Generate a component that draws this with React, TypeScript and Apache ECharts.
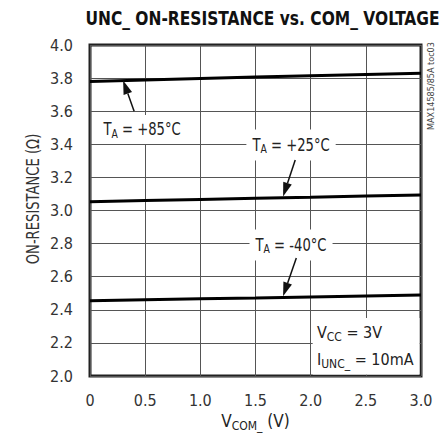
import React, { useEffect, useRef } from 'react';
import * as echarts from 'echarts';

const FONT = "'Liberation Sans Narrow', 'DejaVu Sans Condensed', 'Roboto', sans-serif";

// COM_ voltage (V)
const voltage = [0, 0.5, 1.0, 1.5, 2.0, 2.5, 3.0];
// On-resistance (ohm) per temperature
const ron85 = [3.78, 3.789, 3.798, 3.806, 3.814, 3.822, 3.83];
const ron25 = [3.053, 3.06, 3.067, 3.074, 3.08, 3.087, 3.093];
const ronM40 = [2.455, 2.461, 2.467, 2.472, 2.478, 2.484, 2.489];

const xTickLabels = ['0', '0.5', '1.0', '1.5', '2.0', '2.5', '3.0'];
const yTickLabels = ['2.0', '2.2', '2.4', '2.6', '2.8', '3.0', '3.2', '3.4', '3.6', '3.8', '4.0'];

const title = 'UNC_ ON-RESISTANCE vs. COM_ VOLTAGE';
const yName = 'ON-RESISTANCE (Ω)';
const watermark = 'MAX14585/85A toc03';

// temperature annotations (data coordinates)
const tempNotes = [
  { text: ' = +85°C', at: [0.091, 3.49], align: 'left' },
  { text: ' = +25°C', at: [1.822, 3.396], align: 'center' },
  { text: ' = -40°C', at: [1.822, 2.792], align: 'center' },
];
const arrows = [
  { tail: [0.4, 3.6], head: [0.3, 3.786] },
  { tail: [1.86, 3.305], head: [1.75, 3.085] },
  { tail: [1.87, 2.713], head: [1.75, 2.482] },
];
const condBox = { from: [2.0, 2.0], to: [3.0, 2.35] };
const condLines = [
  { main: 'V', sub: 'CC', rest: ' = 3V', at: [2.057, 2.26] },
  { main: 'I', sub: 'UNC_', rest: ' = 10mA', at: [2.057, 2.097] },
];

const rich = (size: number, sub: number) => ({
  m: { fontSize: size, lineHeight: size + 4, fontFamily: FONT, fill: '#222' },
  s: { fontSize: sub, lineHeight: sub - 1, fontFamily: FONT, fill: '#222', verticalAlign: 'bottom' },
});

export default function App() {
  const ref = useRef<HTMLDivElement>(null);
  useEffect(() => {
    document.body.style.margin = '0';
    const chart = echarts.init(ref.current!, undefined, { renderer: 'svg' });
    const lineSeries = (data: number[]) => ({
      type: 'line',
      data: voltage.map((v, i) => [v, data[i]]),
      symbol: 'none',
      lineStyle: { color: '#000', width: 3 },
      z: 3,
    });
    chart.setOption({
      animation: false,
      grid: {
        left: 90,
        top: 45,
        right: 27,
        bottom: 65,
        show: true,
        borderColor: '#222',
        borderWidth: 3,
        outerBoundsMode: 'none',
      },
      xAxis: {
        type: 'value',
        min: 0,
        max: 3,
        interval: 0.5,
        axisLine: { show: false },
        axisTick: { show: false },
        splitLine: { show: true, lineStyle: { color: '#555', width: 1 } },
        axisLabel: {
          fontSize: 16,
          fontFamily: FONT,
          color: '#333',
          margin: 16,
          formatter: (v: number) => xTickLabels[Math.round(v / 0.5)],
        },
      },
      yAxis: {
        type: 'value',
        min: 2,
        max: 4,
        interval: 0.2,
        axisLine: { show: false },
        axisTick: { show: false },
        splitLine: { show: true, lineStyle: { color: '#555', width: 1 } },
        axisLabel: {
          fontSize: 16,
          fontFamily: FONT,
          color: '#333',
          margin: 17,
          formatter: (v: number) => yTickLabels[Math.round((v - 2) / 0.2)],
        },
      },
      series: [lineSeries(ron85), lineSeries(ron25), lineSeries(ronM40)],
    });

    const px = (p: number[]) => chart.convertToPixel({ gridIndex: 0 }, p) as number[];
    const graphics: any[] = [];

    graphics.push({
      type: 'text',
      z: 10,
      x: 262.5,
      y: 18,
      scaleX: 0.86,
      style: {
        text: title,
        x: 0,
        y: 0,
        textAlign: 'center',
        textVerticalAlign: 'middle',
        font: `bold 20px ${FONT}`,
        fill: '#111',
      },
    });
    graphics.push({
      type: 'text',
      z: 10,
      x: 33,
      y: 199,
      rotation: Math.PI / 2,
      scaleX: 0.86,
      style: {
        text: yName,
        x: 0,
        y: 0,
        textAlign: 'center',
        textVerticalAlign: 'middle',
        font: `17px ${FONT}`,
        fill: '#333',
      },
    });
    graphics.push({
      type: 'text',
      z: 10,
      x: 431,
      y: 86,
      rotation: Math.PI / 2,
      style: {
        text: watermark,
        x: 0,
        y: 0,
        textAlign: 'center',
        textVerticalAlign: 'middle',
        font: `9px ${FONT}`,
        fill: '#444',
      },
    });
    // x axis name
    const xc = px([1.5, 2.0]);
    graphics.push({
      type: 'text',
      z: 10,
      x: xc[0],
      y: 421,
      style: {
        text: '{m|V}{s|COM_}{m| (V)}',
        rich: rich(17, 12),
        x: 0,
        y: 0,
        textAlign: 'center',
        textVerticalAlign: 'middle',
      },
    });

    // condition box
    const b0 = px(condBox.from);
    const b1 = px(condBox.to);
    graphics.push({
      type: 'rect',
      z: 8,
      shape: { x: b0[0] + 2, y: b1[1], width: b1[0] - b0[0] - 3.5, height: b0[1] - b1[1] - 1.5 },
      style: { fill: '#fff' },
    });
    condLines.forEach((c) => {
      const p = px(c.at);
      graphics.push({
        type: 'text',
        z: 10,
        x: p[0],
        y: p[1],
        style: {
          text: `{m|${c.main}}{s|${c.sub}}{m|${c.rest}}`,
          rich: rich(16, 12),
          x: 0,
          y: 0,
          textAlign: 'left',
          textVerticalAlign: 'middle',
        },
      });
    });

    tempNotes.forEach((n) => {
      const p = px(n.at);
      graphics.push({
        type: 'text',
        z: 10,
        x: p[0],
        y: p[1],
        scaleX: 0.86,
        style: {
          text: `{m|T}{s|A}{m|${n.text}}`,
          rich: rich(17, 12),
          x: 0,
          y: 0,
          textAlign: n.align,
          textVerticalAlign: 'middle',
          backgroundColor: '#fff',
          padding: n.align === 'left' ? [4, 4, 4, 4] : [5, 7, 5, 7],
        },
      });
    });

    arrows.forEach((a) => {
      const t = px(a.tail);
      const h = px(a.head);
      const dx = h[0] - t[0];
      const dy = h[1] - t[1];
      const len = Math.sqrt(dx * dx + dy * dy);
      const ux = dx / len;
      const uy = dy / len;
      const L = 14;
      const W = 4.5;
      const bx = h[0] - ux * L;
      const by = h[1] - uy * L;
      graphics.push({
        type: 'line',
        z: 10,
        shape: { x1: t[0], y1: t[1], x2: bx, y2: by },
        style: { stroke: '#111', lineWidth: 1.5 },
      });
      graphics.push({
        type: 'polygon',
        z: 10,
        shape: {
          points: [
            [h[0], h[1]],
            [bx - uy * W, by + ux * W],
            [bx + uy * W, by - ux * W],
          ],
        },
        style: { fill: '#111' },
      });
    });

    chart.setOption({ graphic: { elements: graphics } });
    return () => chart.dispose();
  }, []);
  return <div ref={ref} style={{ width: 448, height: 441 }} />;
}
